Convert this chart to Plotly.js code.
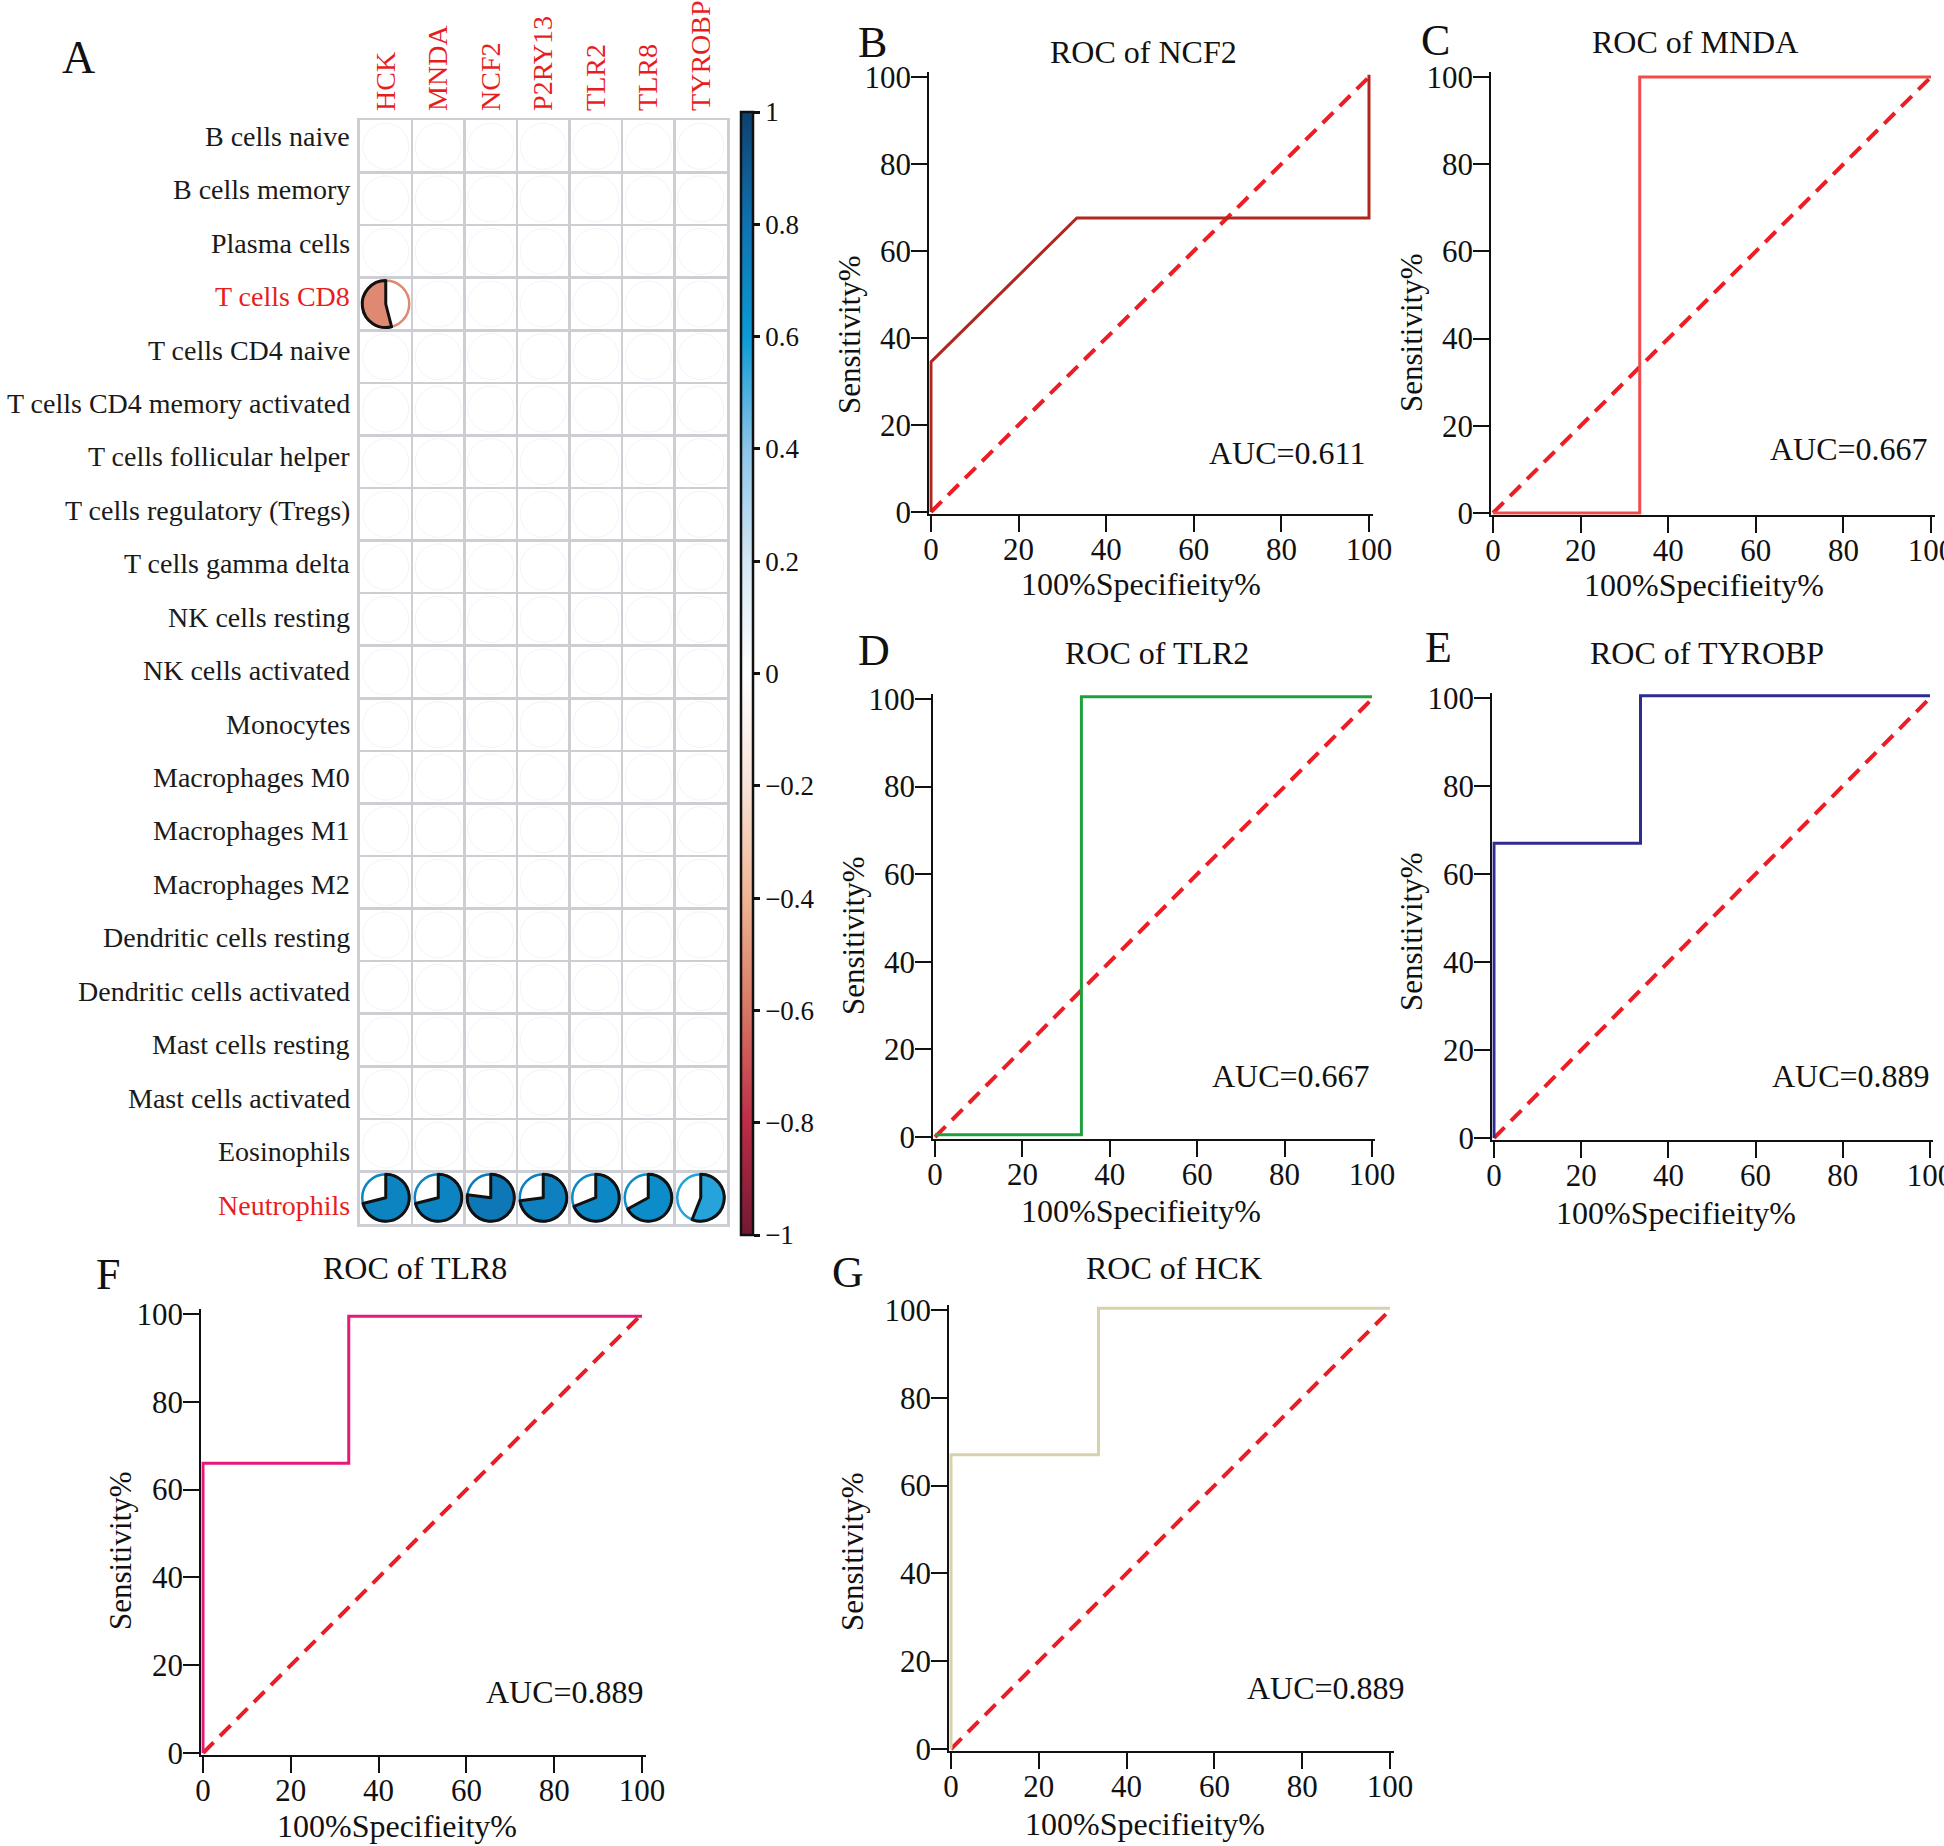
<!DOCTYPE html>
<html>
<head>
<meta charset="utf-8">
<script src="https://cdn.plot.ly/plotly-3.0.1.min.js"></script>
<style>
  body { margin: 0; background: #fff; }
  #chart { width: 1944px; height: 1846px; }
</style>
</head>
<body>
<div id="chart"></div>
<script>
const W = 1944, H = 1846;
const FONT = 'Times New Roman, Liberation Serif, serif';

// ---- panel A: immune cell / gene correlation ----
const genes = ['HCK', 'MNDA', 'NCF2', 'P2RY13', 'TLR2', 'TLR8', 'TYROBP'];
const cellTypes = [
  'B cells naive', 'B cells memory', 'Plasma cells', 'T cells CD8', 'T cells CD4 naive',
  'T cells CD4 memory activated', 'T cells follicular helper', 'T cells regulatory (Tregs)',
  'T cells gamma delta', 'NK cells resting', 'NK cells activated', 'Monocytes',
  'Macrophages M0', 'Macrophages M1', 'Macrophages M2', 'Dendritic cells resting',
  'Dendritic cells activated', 'Mast cells resting', 'Mast cells activated',
  'Eosinophils', 'Neutrophils'
];
const highlightCells = ['T cells CD8', 'Neutrophils'];

// significant correlations only, the rest of the matrix is blank
const sigCell = ['T cells CD8', 'Neutrophils', 'Neutrophils', 'Neutrophils', 'Neutrophils',
                 'Neutrophils', 'Neutrophils', 'Neutrophils'];
const sigGene = ['HCK', 'HCK', 'MNDA', 'NCF2', 'P2RY13', 'TLR2', 'TLR8', 'TYROBP'];
const sigR = [-0.54, 0.71, 0.71, 0.77, 0.73, 0.69, 0.67, 0.56];

const cbTickVals = [1, 0.8, 0.6, 0.4, 0.2, 0, -0.2, -0.4, -0.6, -0.8, -1];

// RdBu-like scale as it looks in the figure
const scaleVals = [-1, -0.8, -0.6, -0.4, -0.2, 0, 0.2, 0.4, 0.6, 0.8, 1];
const scaleCols = ['#731832', '#bc2c47', '#d87664', '#efb594', '#f8e2d7', '#ffffff',
                   '#d4e7f4', '#8cc5e8', '#0b9ad6', '#0f72b2', '#0d416e'];

// ---- ROC panels ----
const rocGenes = ['NCF2', 'MNDA', 'TLR2', 'TYROBP', 'TLR8', 'HCK'];
const rocLetters = ['B', 'C', 'D', 'E', 'F', 'G'];
const aucValues = [0.611, 0.667, 0.667, 0.889, 0.889, 0.889];
const fprNCF2 = [0, 0, 33.3, 100, 100];
const tprNCF2 = [0, 34.5, 67.6, 67.6, 100.5];
const fprMNDA = [0, 33.5, 33.5, 100];
const tprMNDA = [0, 0, 100, 100];
const fprTLR2 = [0, 33.5, 33.5, 100];
const tprTLR2 = [0.5, 0.5, 100.5, 100.5];
const fprTYROBP = [0, 0, 33.6, 33.6, 100];
const tprTYROBP = [0, 67, 67, 100.5, 100.5];
const fprTLR8 = [0, 0, 33.2, 33.2, 100];
const tprTLR8 = [0, 66, 66, 99.5, 99.5];
const fprHCK = [0, 0, 33.6, 33.6, 100];
const tprHCK = [0, 67, 67, 100.4, 100.4];
const rocFpr = [fprNCF2, fprMNDA, fprTLR2, fprTYROBP, fprTLR8, fprHCK];
const rocTpr = [tprNCF2, tprMNDA, tprTLR2, tprTYROBP, tprTLR8, tprHCK];
const refLine = [0, 100];
const rocTicks = [0, 20, 40, 60, 80, 100];
const rocColors = ['#b0271f', '#ef4c4c', '#20a03c', '#2f2c8f', '#e6197b', '#d9d1ab'];

// pixel geometry of each ROC panel: x of 0 / 100, y of 100 / 0
const rocBox = [
  [931, 1369, 77, 512], [1493, 1931, 77, 513],
  [935, 1372, 699, 1137], [1494, 1930, 698, 1138],
  [203, 642, 1314, 1753], [951, 1390, 1310, 1749]
];
const titlePos = [[1143, 52], [1695, 42], [1157, 653], [1707, 653], [415, 1268], [1174, 1268]];
const letterPos = [[872, 42], [1435, 40], [874, 650], [1438, 647], [108, 1274], [848, 1272]];
const yTitlePos = [[849, 335], [1411, 333], [853, 936], [1411, 932], [120, 1551], [852, 1552]];
const xTitlePos = [[1141, 584], [1704, 585], [1141, 1211], [1676, 1213], [397, 1826], [1145, 1824]];
const aucPos = [[1367, 453], [1930, 449], [1372, 1076], [1932, 1076], [646, 1692], [1407, 1688]];

const px = v => v / W;
const py = v => 1 - v / H;

function hexToRgb(h) {
  return [parseInt(h.slice(1, 3), 16), parseInt(h.slice(3, 5), 16), parseInt(h.slice(5, 7), 16)];
}
function corrColor(r) {
  for (let i = 0; i < scaleVals.length - 1; i++) {
    if (r >= scaleVals[i] && r <= scaleVals[i + 1]) {
      const t = (r - scaleVals[i]) / (scaleVals[i + 1] - scaleVals[i]);
      const a = hexToRgb(scaleCols[i]), b = hexToRgb(scaleCols[i + 1]);
      const c = a.map((v, k) => Math.round(v + (b[k] - v) * t));
      return `rgb(${c[0]},${c[1]},${c[2]})`;
    }
  }
  return '#ffffff';
}

const traces = [];
const annotations = [];
const layout = {
  width: W, height: H,
  margin: { l: 0, r: 0, t: 0, b: 0 },
  paper_bgcolor: '#ffffff', plot_bgcolor: 'rgba(0,0,0,0)',
  font: { family: FONT, color: '#111111' },
  showlegend: false
};

// grid of panel A
const gx0 = 359.5, gx1 = 727, gy0 = 120, gy1 = 1224;
const cw = (gx1 - gx0) / genes.length, ch = (gy1 - gy0) / cellTypes.length;
const gridColor = '#cdcdd4';

layout.xaxis = {
  domain: [px(gx0), px(gx1)], anchor: 'y', side: 'top', type: 'category',
  categoryorder: 'array', categoryarray: genes, range: [-0.5, genes.length - 0.5],
  tickson: 'boundaries', ticks: '', tickangle: -90, ticklabelstandoff: 1,
  tickfont: { size: 28, color: '#e81e1e', family: FONT }, ticklabeloverflow: 'allow',
  showgrid: true, gridcolor: gridColor, gridwidth: 2.5,
  showline: true, mirror: true, linecolor: gridColor, linewidth: 2.5,
  zeroline: false, fixedrange: true
};
layout.yaxis = {
  domain: [py(gy1), py(gy0)], anchor: 'x', type: 'category',
  categoryorder: 'array', categoryarray: cellTypes,
  range: [cellTypes.length - 0.5, -0.5],
  tickson: 'boundaries', ticks: '', showticklabels: false,
  showgrid: true, gridcolor: gridColor, gridwidth: 2.5,
  showline: true, mirror: true, linecolor: gridColor, linewidth: 2.5,
  zeroline: false, fixedrange: true
};

// row labels (set slightly off the cell rows, as in the figure)
const rowLabelTop = 136.4, rowLabelStep = 53.43;
cellTypes.forEach((c, i) => {
  annotations.push({
    text: c, x: px(352), y: py(rowLabelTop + i * rowLabelStep), xref: 'paper', yref: 'paper',
    xanchor: 'right', yanchor: 'middle', showarrow: false,
    font: { size: 28, family: FONT, color: highlightCells.includes(c) ? '#e81e1e' : '#1a1a1a' }
  });
});

// faint empty circles in every cell
const allX = [], allY = [];
cellTypes.forEach(c => genes.forEach(g => { allX.push(g); allY.push(c); }));
traces.push({
  type: 'scatter', mode: 'markers', x: allX, y: allY, xaxis: 'x', yaxis: 'y',
  marker: { symbol: 'circle-open', size: 46, color: '#f4f4f6', line: { width: 1 } },
  hoverinfo: 'skip'
});

// colour bar carrier
traces.push({
  type: 'scatter', mode: 'markers', x: [genes[0]], y: [cellTypes[0]], xaxis: 'x', yaxis: 'y',
  marker: {
    size: 1, opacity: 0, color: [0], cmin: -1, cmax: 1,
    colorscale: scaleVals.map((v, i) => [(v + 1) / 2, scaleCols[i]]),
    showscale: true,
    colorbar: {
      x: px(741), xanchor: 'left', y: py(112), yanchor: 'top',
      len: (1235 - 112) / H, lenmode: 'fraction', thickness: 12, thicknessmode: 'pixels',
      xpad: 0, ypad: 0, outlinewidth: 2.5, outlinecolor: '#111111',
      tickmode: 'array', tickvals: cbTickVals,
      ticktext: cbTickVals.map(v => v < 0 ? '\u2212' + Math.abs(v) : String(v)),
      ticks: 'outside', ticklen: 6, tickwidth: 3, tickcolor: '#111111',
      tickfont: { size: 27, family: FONT, color: '#111111' }
    }
  },
  hoverinfo: 'skip'
});

// pies for significant correlations: positive fills clockwise from 12 o'clock,
// negative fills the other way (drawn as the last slice of a clockwise pie)
const pieR = 23.5;
const clear = 'rgba(0,0,0,0)';
sigR.forEach((r, i) => {
  const col = genes.indexOf(sigGene[i]);
  const row = cellTypes.indexOf(sigCell[i]);
  const cx = gx0 + (col + 0.5) * cw, cy = gy0 + (row + 0.5) * ch;
  const domain = { x: [px(cx - pieR), px(cx + pieR)], y: [py(cy + pieR), py(cy - pieR)] };
  const c = corrColor(r);
  const a = Math.abs(r);
  traces.push({
    type: 'pie', values: [1], labels: ['ring' + i], domain, sort: false,
    marker: { colors: ['#ffffff'], line: { color: c, width: 2.5 } },
    textinfo: 'none', hoverinfo: 'skip', showlegend: false
  });
  const pos = r > 0;
  traces.push({
    type: 'pie', values: pos ? [a, 1 - a] : [1 - a, a], labels: ['p' + i, 'q' + i],
    domain, sort: false, direction: 'clockwise', rotation: 0,
    marker: {
      colors: pos ? [c, clear] : [clear, c],
      line: { color: pos ? ['#111111', clear] : [clear, '#111111'], width: pos ? [3, 0] : [0, 3] }
    },
    textinfo: 'none', hoverinfo: 'skip', showlegend: false
  });
});

annotations.push({
  text: 'A', x: px(78), y: py(58), xref: 'paper', yref: 'paper',
  xanchor: 'center', yanchor: 'middle', showarrow: false, font: { size: 46, family: FONT, color: '#111' }
});

// ROC panels
const xr = [-0.4, 100.8], yr = [-0.4, 101.2];
rocGenes.forEach((g, i) => {
  const n = i + 2;
  const [x0, x100, y100, y0] = rocBox[i];
  const ux = (x100 - x0) / 100, uy = (y0 - y100) / 100;
  const common = {
    showline: true, linecolor: '#111111', linewidth: 2, layer: 'below traces',
    ticks: 'outside', ticklen: 16, tickwidth: 2, tickcolor: '#111111',
    tickmode: 'array', tickvals: rocTicks, showgrid: false, zeroline: false,
    ticklabeloverflow: 'allow',
    tickfont: { size: 31, family: FONT, color: '#111111' }, fixedrange: true
  };
  layout['xaxis' + n] = Object.assign({}, common, {
    domain: [px(x0 + xr[0] * ux), px(x0 + xr[1] * ux)], range: xr, anchor: 'y' + n,
    ticklabelstandoff: -9
  });
  layout['yaxis' + n] = Object.assign({}, common, {
    domain: [py(y0 - yr[0] * uy), py(y0 - yr[1] * uy)], range: yr, anchor: 'x' + n,
    ticklabelstandoff: -6
  });

  traces.push({
    type: 'scatter', mode: 'lines', x: refLine, y: refLine, xaxis: 'x' + n, yaxis: 'y' + n,
    line: { color: '#ee1c24', width: 4, dash: '15px,9px' }, hoverinfo: 'skip'
  });
  traces.push({
    type: 'scatter', mode: 'lines', x: rocFpr[i], y: rocTpr[i], xaxis: 'x' + n, yaxis: 'y' + n,
    line: { color: rocColors[i], width: 3 }, name: g
  });

  const f = { family: FONT, color: '#111111' };
  annotations.push({
    text: 'ROC of ' + g, x: px(titlePos[i][0]), y: py(titlePos[i][1]), xref: 'paper', yref: 'paper',
    xanchor: 'center', yanchor: 'middle', showarrow: false, font: Object.assign({ size: 32 }, f)
  });
  annotations.push({
    text: rocLetters[i], x: px(letterPos[i][0]), y: py(letterPos[i][1]), xref: 'paper', yref: 'paper',
    xanchor: 'center', yanchor: 'middle', showarrow: false, font: Object.assign({ size: 44 }, f)
  });
  annotations.push({
    text: 'Sensitivity%', textangle: -90, x: px(yTitlePos[i][0]), y: py(yTitlePos[i][1]),
    xref: 'paper', yref: 'paper', xanchor: 'center', yanchor: 'middle', showarrow: false,
    font: Object.assign({ size: 31 }, f)
  });
  annotations.push({
    text: '100%Specifieity%', x: px(xTitlePos[i][0]), y: py(xTitlePos[i][1]),
    xref: 'paper', yref: 'paper', xanchor: 'center', yanchor: 'middle', showarrow: false,
    font: Object.assign({ size: 32 }, f)
  });
  annotations.push({
    text: 'AUC=' + aucValues[i].toFixed(3), x: px(aucPos[i][0]), y: py(aucPos[i][1]),
    xref: 'paper', yref: 'paper', xanchor: 'right', yanchor: 'middle', showarrow: false,
    font: Object.assign({ size: 32 }, f)
  });
});

layout.annotations = annotations;

Plotly.newPlot('chart', traces, layout, { staticPlot: true });
</script>
</body>
</html>
